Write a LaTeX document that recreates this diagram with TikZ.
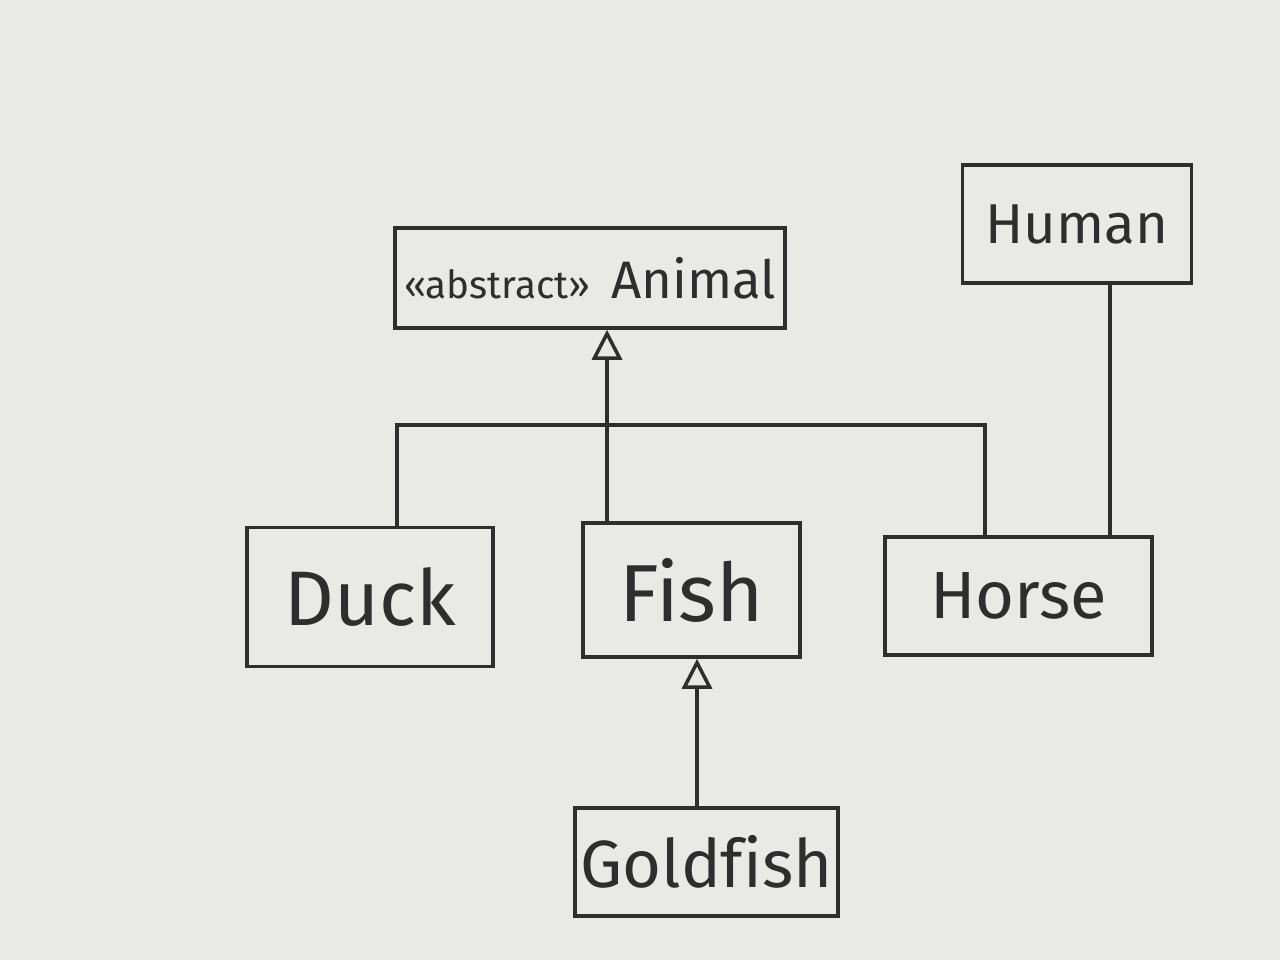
\documentclass[tikz,border=0pt]{standalone}
\usepackage{fontspec}
\setmainfont{Fira Sans}[Ligatures=CommonOff]
\usetikzlibrary{arrows.meta}
\definecolor{BoardWhite}{HTML}{E9E9E6}
\definecolor{Marker}{HTML}{2E2E2E}
\tikzset{
  classbox/.style={draw=Marker, line width=1pt, text=Marker, inner sep=0pt},
  inherit/.style={draw=Marker, line width=1pt, -{Triangle[open, width=3mm, length=3mm]}},
  assoc/.style={draw=Marker, line width=1pt}
}
\begin{document}
\begin{tikzpicture}

            \fill[BoardWhite] (0,0) rectangle (12.8,9.6);
            \useasboundingbox (0,0) rectangle (12.8,9.6);

            % classes
            \node[classbox, minimum width=3.9cm, minimum height=1cm] (Animal) at (5.90,6.82)
              {\fontsize{11}{13}\selectfont <<abstract>>\ \ \fontsize{15}{18}\selectfont Animal};
            \node[classbox, minimum width=2.29cm, minimum height=1.18cm] (Human) at (10.77,7.36)
              {\fontsize{16}{19}\selectfont Human};
            \node[classbox, minimum width=2.46cm, minimum height=1.39cm] (Duck) at (3.70,3.63)
              {\fontsize{22}{26}\selectfont Duck};
            \node[classbox, minimum width=2.17cm, minimum height=1.34cm] (Fish) at (6.915,3.70)
              {\fontsize{23}{27}\selectfont Fish};
            \node[classbox, minimum width=2.67cm, minimum height=1.18cm] (Horse) at (10.185,3.64)
              {\fontsize{19}{22}\selectfont Horse};
            \node[classbox, minimum width=2.63cm, minimum height=1.08cm] (Goldfish) at (7.065,0.98)
              {\fontsize{19}{22}\selectfont Goldfish};

            % bar under Animal
            \coordinate (barL) at (3.97,5.35);
            \coordinate (fishUp) at (6.07,5.35);
            \coordinate (barR) at (9.85,5.35);
            \coordinate (gfUp) at (6.97,0);
            \coordinate (hh) at (11.10,0);

            \draw[inherit] (Fish.north -| fishUp) -- (Animal.south -| fishUp);
            \draw[assoc] (Duck.north -| barL) -- (barL) -- (barR) -- (Horse.north -| barR);

            \draw[inherit] (Goldfish.north -| gfUp) -- (Fish.south -| gfUp);
            \draw[assoc] (Horse.north -| hh) -- (Human.south -| hh);

\end{tikzpicture}
\end{document}
